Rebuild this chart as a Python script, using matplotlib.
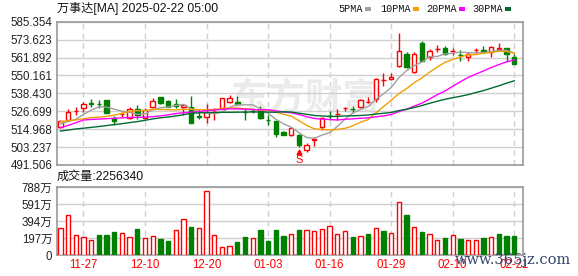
import matplotlib
matplotlib.use('Agg')
import matplotlib.pyplot as plt
from matplotlib.patches import Rectangle
import numpy as np
import pandas as pd

plt.rcParams['font.family'] = ['Liberation Sans', 'Noto Sans CJK SC', 'DejaVu Sans']

# ---------------- data ----------------
title = '万事达[MA] 2025-02-22 05:00'
vol_title = '成交量:2256340'

opens = [516.59, 520.98, 526.94, 528.64, 531.91, 531.45, 534.40, 522.48, 524.58, 522.09,
         527.98, 522.09, 529.29, 535.84, 533.62, 531.45, 529.69, 529.29, 523.27, 522.75,
         526.28, 529.03, 532.96, 532.96, 526.22, 527.00, 527.98, 521.17, 520.32, 513.32,
         511.15, 511.15, 501.33, 508.14, 516.20, 523.73, 524.77, 528.51, 528.31, 529.69,
         532.83, 534.53, 547.35, 547.63, 556.34, 564.00, 552.61, 571.21, 562.43, 567.34,
         568.33, 566.04, 563.68, 562.43, 566.69, 566.82, 565.31, 567.80, 568.33, 562.43]
highs = [520.98, 527.98, 529.69, 532.96, 534.53, 534.08, 534.40, 523.60, 526.41, 529.69,
         530.80, 528.64, 535.19, 536.24, 534.08, 534.53, 531.45, 536.70, 527.98, 531.45,
         528.64, 535.40, 537.35, 536.70, 528.64, 527.98, 530.15, 524.25, 520.32, 513.77,
         516.07, 511.81, 505.72, 509.65, 522.75, 527.07, 527.98, 529.69, 530.15, 534.53,
         535.84, 548.29, 551.56, 551.56, 577.76, 565.71, 565.71, 572.72, 567.47, 570.09,
         569.63, 567.93, 566.82, 565.31, 568.33, 569.63, 569.63, 571.21, 568.33, 564.00]
lows = [515.54, 520.52, 524.25, 526.41, 529.29, 528.64, 525.76, 517.70, 522.75, 521.44,
        521.44, 521.44, 528.64, 531.45, 529.29, 528.64, 524.25, 519.21, 521.44, 518.82,
        520.98, 528.84, 532.30, 530.80, 520.98, 525.37, 521.44, 517.70, 510.04, 510.83,
        510.70, 503.10, 500.22, 503.95, 514.43, 520.98, 520.98, 527.07, 525.37, 529.29,
        531.91, 532.96, 543.24, 547.17, 555.49, 555.23, 551.56, 559.62, 560.27, 565.31,
        563.55, 563.55, 559.62, 559.62, 564.66, 565.31, 562.43, 566.82, 559.62, 557.67]
closes = [520.32, 526.41, 527.07, 531.45, 531.72, 531.26, 525.76, 520.32, 524.71, 527.98,
          524.25, 527.52, 533.62, 531.91, 529.69, 529.82, 530.80, 519.21, 523.07, 526.41,
          526.50, 535.19, 535.30, 531.45, 526.02, 526.87, 522.09, 520.98, 511.61, 511.15,
          515.54, 504.60, 504.80, 508.34, 522.09, 523.60, 524.90, 528.64, 528.18, 534.08,
          532.96, 547.63, 547.50, 548.94, 566.36, 555.88, 564.00, 559.62, 566.17, 567.47,
          564.00, 566.17, 563.55, 564.00, 566.82, 565.31, 568.98, 567.93, 564.00, 557.67]
# volume in 万 (10k shares)
volumes_wan = [310, 466, 229, 210, 171, 233, 233, 268, 252, 210,
               307, 198, 221, 186, 163, 291, 419, 326, 314, 745,
               229, 93, 105, 151, 210, 198, 291, 163, 291, 221,
               241, 291, 287, 280, 303, 334, 241, 276, 210, 221,
               245, 310, 280, 252, 613, 466, 326, 268, 241, 171,
               198, 229, 186, 175, 171, 198, 210, 245, 221, 225.634]

# moving-average values before the full window is available
ma5_head = [518.36, 519.99, 521.43, 524.58]
ma10_head = [519.86, 520.45, 520.98, 521.76, 522.61, 522.81, 523.33, 524.20, 525.20]
ma20_head = [515.93, 517.38, 519.14, 520.98, 521.31, 521.57, 521.83, 522.09, 522.42, 522.61,
             522.75, 522.88, 523.14, 523.66, 524.38, 525.17, 525.76, 526.09, 526.41]
ma30_head = [513.77, 514.43, 515.08, 515.61, 516.13, 516.72, 517.31, 517.96, 518.55, 519.27,
             519.93, 520.78, 521.70, 522.42, 522.94, 523.60, 524.45, 525.37, 525.69, 525.76,
             525.89, 526.02, 526.02, 526.09, 526.15, 526.22, 526.22, 526.15, 526.02]

date_pos = [3, 11, 19, 27, 35, 43, 51, 59]
date_labels = ['11-27', '12-10', '12-20', '01-03', '01-16', '01-29', '02-10', '02-21']
price_ticks = [491.506, 503.237, 514.968, 526.699, 538.430, 550.161, 561.892, 573.623, 585.354]
vol_ticks_wan = [0, 197, 394, 591, 788]
vol_tick_labels = ['0', '197万', '394万', '591万', '788万']

legend_names = ['5PMA', '10PMA', '20PMA', '30PMA']
ma_colors = ['#a0a0a0', '#f0a000', '#ff00ff', '#006a32']

# ---------------- figure ----------------
W, H = 578, 276
fig = plt.figure(figsize=(W / 100, H / 100), dpi=100)


def rect(l, t, r, b):
    return [l / W, 1 - b / H, (r - l) / W, (b - t) / H]


ax = fig.add_axes(rect(56.5, 21.7, 522.7, 165))
axv = fig.add_axes(rect(56.5, 187, 522.7, 255))

RED = '#ff0000'
GREEN = '#008000'
FRAME = '#999999'
GRID = '#d0d0d0'
n = len(closes)
x = np.arange(n)

for a in (ax, axv):
    a.set_xlim(-0.5, 60.1)
    for s in a.spines.values():
        s.set_color(FRAME)
        s.set_linewidth(1.2)
    a.tick_params(length=0, labelsize=8.3, colors='#222222', pad=3)
    a.set_xticks(date_pos)
    for p in date_pos:
        a.axvline(p, color=GRID, lw=1, ls=(0, (4, 3)), zorder=0)

# watermark
ax.text(0.535, 0.46, '东方财富', transform=ax.transAxes, fontsize=27, fontweight='bold',
        color='#ebebeb', ha='center', va='center', zorder=0,
        family=['Noto Sans CJK SC'])

# price panel
ax.set_ylim(price_ticks[0], price_ticks[-1])
ax.set_yticks(price_ticks)
ax.set_yticklabels(['%.3f' % v for v in price_ticks])
ax.set_xticklabels([])
for v in price_ticks:
    ax.axhline(v, color=GRID, lw=1, zorder=0)

cw = 0.58
for i in range(n):
    o, h, l, c = opens[i], highs[i], lows[i], closes[i]
    up = c >= o
    col = RED if up else GREEN
    ax.vlines(i, l, h, color=col, lw=1, zorder=2)
    bot = min(o, c)
    ht = max(abs(c - o), 0.05)
    ax.add_patch(Rectangle((i - cw / 2, bot), cw, ht,
                           facecolor='white' if up else GREEN,
                           edgecolor=col, lw=1, zorder=3))

s = pd.Series(closes)
for win, head, col in zip([5, 10, 20, 30], [ma5_head, ma10_head, ma20_head, ma30_head], ma_colors):
    m = s.rolling(win).mean().to_numpy()
    m[:win - 1] = head
    ax.plot(x, m, color=col, lw=1, zorder=4)

# S marker under the low candle
low_idx = 31
ax.plot([low_idx], [499.8], marker='^', color=RED, markersize=3.5, clip_on=False, zorder=5)
ax.text(low_idx, 494.6, 'S', color=RED, fontsize=8, ha='center', va='center', clip_on=False, zorder=5)

# volume panel
axv.set_ylim(0, 788)
axv.set_yticks(vol_ticks_wan)
axv.set_yticklabels(vol_tick_labels)
for v in vol_ticks_wan:
    axv.axhline(v, color=GRID, lw=1, zorder=0)
vol_up = [closes[0] >= opens[0]] + [closes[i] >= closes[i - 1] for i in range(1, n)]
bw = 0.56
for i in range(n):
    if vol_up[i]:
        axv.bar(i, volumes_wan[i], width=bw, facecolor='white', edgecolor=RED, lw=1, zorder=3)
    else:
        axv.bar(i, volumes_wan[i], width=bw, facecolor=GREEN, edgecolor=GREEN, lw=1, zorder=3)
axv.set_xticklabels(date_labels)
axv.tick_params(axis='x', colors=RED, pad=3)

# titles
fig.text(57 / W, 1 - 8.5 / H, title, fontsize=8.7, ha='left', va='center', color='#111111')
fig.text(57 / W, 1 - 177 / H, vol_title, fontsize=8.7, ha='left', va='center', color='#111111')

# legend
leg_x = [338, 380, 426, 472]
sq_x = [365, 413.3, 459.3, 505]
for name, lx, sx, col in zip(legend_names, leg_x, sq_x, ma_colors):
    fig.text(lx / W, 1 - 8.5 / H, name, fontsize=7.3, ha='left', va='center',
             color='#111111', family=['Liberation Mono'])
    fig.add_artist(Rectangle((sx / W, 1 - 10.5 / H), 5.5 / W, 3.5 / H,
                             transform=fig.transFigure, facecolor=col, edgecolor='none'))

# site watermark
fig.text(513 / W, 1 - 260 / H, 'www.365jz.com', fontsize=10.5, ha='center', va='center',
         color='#34466e', family=['DejaVu Serif'])

fig.savefig('out.png', dpi=100)
